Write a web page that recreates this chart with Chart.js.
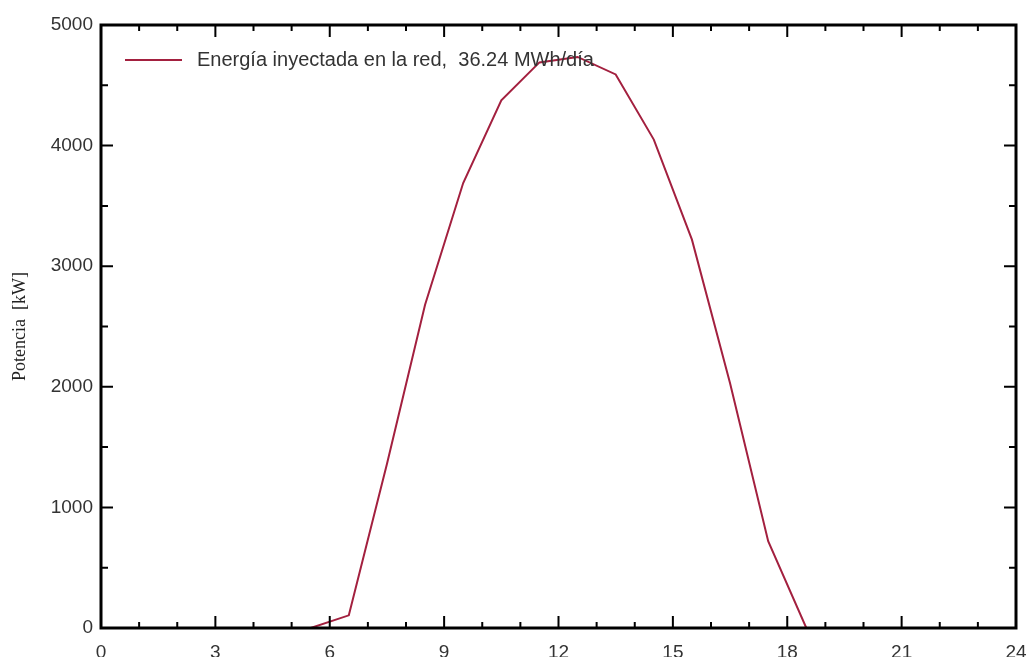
<!DOCTYPE html>
<html>
<head>
<meta charset="utf-8">
<script src="https://cdn.jsdelivr.net/npm/chart.js@4/dist/chart.umd.min.js"></script>
<style>
  html, body { margin: 0; padding: 0; background: #fff; }
  #wrap { width: 1028px; height: 657px; }
</style>
</head>
<body>
<div id="wrap"><canvas id="energia" width="1028" height="657"></canvas></div>
<script>
var hours = [0, 0.5, 1.5, 2.5, 3.5, 4.5, 5.5, 6.5, 7.5, 8.5, 9.5, 10.5, 11.5,
             12.5, 13.5, 14.5, 15.5, 16.5, 17.5, 18.5, 19.5, 20.5, 21.5, 22.5, 23.5, 24];
var power = [0, 0, 0, 0, 0, 0, 0, 105, 1360, 2680, 3690, 4375, 4690,
             4735, 4590, 4050, 3220, 2030, 720, 0, 0, 0, 0, 0, 0, 0];
var seriesLabel = "Energía inyectada en la red,  36.24 MWh/día";
var yTitle = "Potencia  [kW]";

var lineColor = "#a3203f";
var sans = "'Liberation Sans', Arial, sans-serif";

// frame with inward ticks, like the original plot
var framePlugin = {
  id: 'frame',
  afterDraw: function(chart) {
    var c = chart.ctx, a = chart.chartArea;
    var xs = chart.scales.x, ys = chart.scales.y;
    c.save();
    c.strokeStyle = "#000";
    c.lineWidth = 3;
    c.strokeRect(a.left, a.top, a.right - a.left, a.bottom - a.top);
    c.lineWidth = 2;
    c.beginPath();
    for (var h = xs.min; h <= xs.max; h += 1) {
      var px = xs.getPixelForValue(h);
      var len = (h % 3 === 0) ? 12 : 6;
      c.moveTo(px, a.bottom); c.lineTo(px, a.bottom - len);
      c.moveTo(px, a.top); c.lineTo(px, a.top + len);
    }
    for (var v = ys.min; v <= ys.max; v += 500) {
      var py = ys.getPixelForValue(v);
      var l2 = (v % 1000 === 0) ? 12 : 7;
      c.moveTo(a.left, py); c.lineTo(a.left + l2, py);
      c.moveTo(a.right, py); c.lineTo(a.right - l2, py);
    }
    c.stroke();

    // legend inside the plot
    var ds = chart.data.datasets[0];
    c.strokeStyle = ds.borderColor;
    c.lineWidth = 2;
    c.beginPath();
    c.moveTo(125, 60); c.lineTo(182, 60);
    c.stroke();
    c.fillStyle = "#333";
    c.font = "20px " + sans;
    c.textBaseline = "middle";
    c.fillText(ds.label, 197, 60);
    c.restore();
  }
};

var points = hours.map(function(h, i) { return { x: h, y: power[i] }; });

new Chart(document.getElementById("energia"), {
  type: 'line',
  data: {
    datasets: [{
      label: seriesLabel,
      data: points,
      borderColor: lineColor,
      borderWidth: 2,
      pointRadius: 0,
      tension: 0,
      fill: false
    }]
  },
  options: {
    responsive: false,
    animation: false,
    layout: { padding: { top: 25, right: 12, left: 0, bottom: 0 } },
    plugins: {
      legend: { display: false },
      tooltip: { enabled: false }
    },
    scales: {
      x: {
        type: 'linear',
        min: 0, max: 24,
        grid: { display: false, drawTicks: false },
        border: { display: false },
        ticks: {
          stepSize: 3, autoSkip: false, maxRotation: 0, padding: 13,
          color: "#333",
          font: { family: sans, size: 19 },
          callback: function(v) { return String(v); }
        },
        afterFit: function(s) { s.height = 29; s.paddingLeft = 0; s.paddingRight = 0; }
      },
      y: {
        min: 0, max: 5000,
        grid: { display: false, drawTicks: false },
        border: { display: false },
        ticks: {
          stepSize: 1000, padding: 8,
          color: "#333",
          font: { family: sans, size: 19 },
          callback: function(v) { return String(v); }
        },
        title: {
          display: true,
          text: yTitle,
          color: "#222",
          padding: { top: 9, bottom: 0 },
          font: { family: "'Liberation Serif', 'Times New Roman', serif", size: 18 }
        },
        afterFit: function(s) { s.width = 101; s.paddingTop = 0; s.paddingBottom = 0; }
      }
    }
  },
  plugins: [framePlugin]
});
</script>
</body>
</html>
